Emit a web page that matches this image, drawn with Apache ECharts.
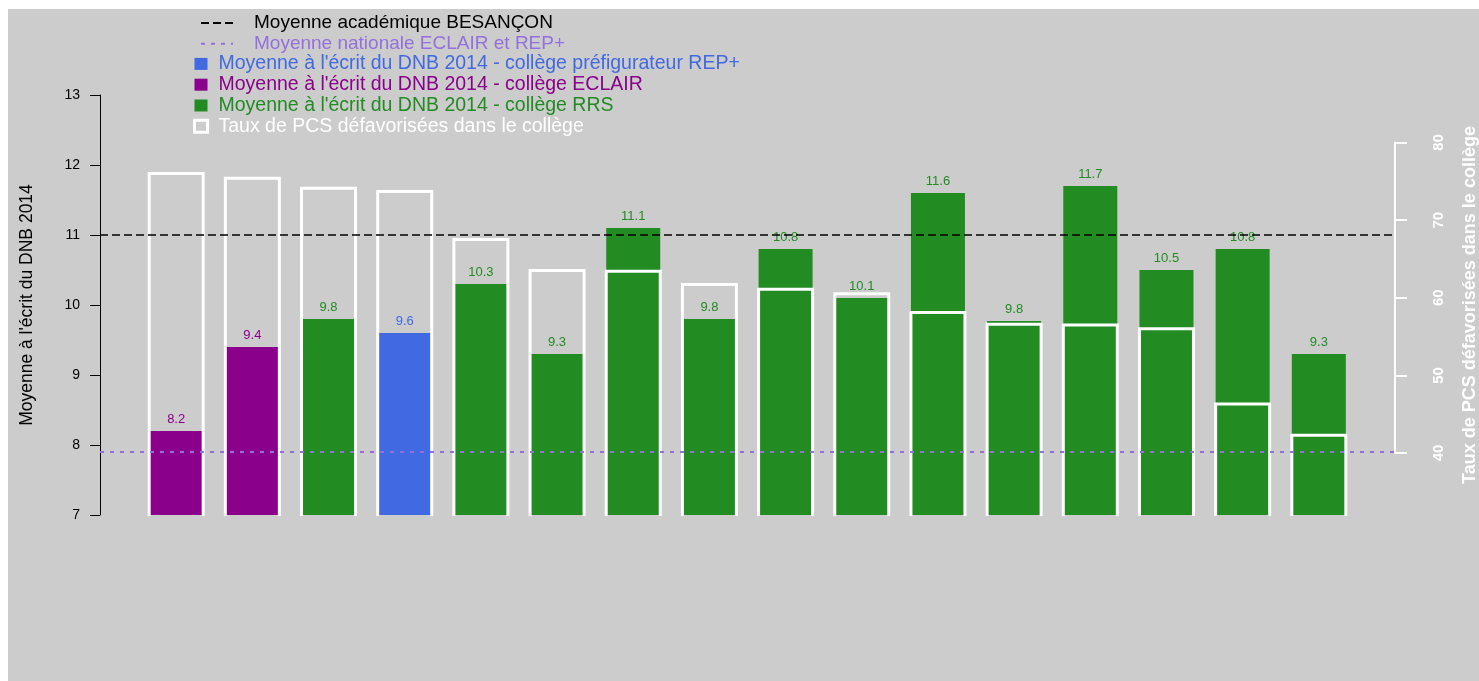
<!DOCTYPE html>
<html>
<head>
<meta charset="utf-8">
<script src="https://cdn.jsdelivr.net/npm/echarts@6/dist/echarts.min.js"></script>
<style>
  html, body { margin: 0; padding: 0; background: #fff; }
  #chart { position: absolute; left: 8px; top: 9px; width: 1471px; height: 672px; background: #cccccc; }
</style>
</head>
<body>
<div id="chart"></div>
<script>
// valeurs (un collège par barre)
const colleges = ['C1', 'C2', 'C3', 'C4', 'C5', 'C6', 'C7', 'C8', 'C9', 'C10', 'C11', 'C12', 'C13', 'C14', 'C15', 'C16'];
const types = ['ECLAIR', 'ECLAIR', 'RRS', 'REP+', 'RRS', 'RRS', 'RRS', 'RRS', 'RRS', 'RRS', 'RRS', 'RRS', 'RRS', 'RRS', 'RRS', 'RRS'];
const moyennes = [8.2, 9.4, 9.8, 9.6, 10.3, 9.3, 11.1, 9.8, 10.8, 10.1, 11.6, 9.77, 11.7, 10.5, 10.8, 9.3];
const tauxPCS = [76.0, 75.4, 74.1, 73.7, 67.5, 63.5, 63.4, 61.7, 61.1, 60.5, 58.1, 56.6, 56.5, 56.0, 46.3, 42.3];
const moyenneAcademique = 11.0;
const moyenneNationale = 7.9;
const ticksGauche = [7, 13, 1];   // min, max, pas
const ticksDroite = [40, 80, 10];

const FONT = "'Liberation Sans', Arial, sans-serif";
const VIOLET = '#8B008B', BLEU = '#4169E1', VERT = '#228B22', MAUVE = '#9370DB';

// géométrie : l'axe de droite (40-80) n'occupe qu'une partie de la hauteur du graphique
const gridTop = 86, gridHeight = 420;
const droiteTop = 133.5, droiteHeight = 310.5;
const pxParUnite = droiteHeight / (ticksDroite[1] - ticksDroite[0]);
const pcsMin = ticksDroite[0] - (gridTop + gridHeight - droiteTop - droiteHeight) / pxParUnite;
const pcsMax = ticksDroite[1] + (droiteTop - gridTop) / pxParUnite;

function serieBarres(type, nom, couleur) {
  const data = [];
  moyennes.forEach((v, i) => { if (types[i] === type) data.push([i + 1, v]); });
  return {
    name: nom,
    type: 'bar',
    xAxisIndex: 0, yAxisIndex: 0,
    barWidth: 54,
    barGap: '-100%',
    z: 2,
    itemStyle: { color: couleur },
    label: {
      show: true, position: 'top', distance: 5,
      color: couleur, fontFamily: FONT, fontSize: 13,
      formatter: p => p.value[1].toFixed(1)
    },
    data: data
  };
}

const chart = echarts.init(document.getElementById('chart'), null, { renderer: 'canvas' });

const sansSymbole = { color: 'rgba(0,0,0,0)', borderWidth: 0 };

const option = {
  animation: false,
  backgroundColor: '#cccccc',
  textStyle: { fontFamily: FONT },
  grid: [
    { left: 92, right: 84, top: gridTop, height: gridHeight, outerBoundsMode: 'none' },
    { left: 92, right: 84, top: droiteTop, height: droiteHeight, outerBoundsMode: 'none' }
  ],
  legend: [
    {
      left: 192, top: 3.5, orient: 'vertical', padding: 0, itemGap: 0,
      itemWidth: 32, itemHeight: 10, selectedMode: false,
      textStyle: { fontSize: 19, lineHeight: 20.8, padding: [0, 0, 0, 16] },
      data: [
        { name: 'Moyenne académique BESANÇON', itemStyle: sansSymbole, textStyle: { color: '#000' } },
        { name: 'Moyenne nationale ECLAIR et REP+', itemStyle: sansSymbole, textStyle: { color: MAUVE } }
      ]
    },
    {
      left: 185, top: 44.5, orient: 'vertical', padding: 0, itemGap: 0,
      itemWidth: 13, itemHeight: 12, selectedMode: false,
      textStyle: { fontSize: 19.5, lineHeight: 20.8, padding: [0, 0, 0, 6] },
      data: [
        { name: "Moyenne à l'écrit du DNB 2014 - collège préfigurateur REP+", icon: 'rect', textStyle: { color: BLEU } },
        { name: "Moyenne à l'écrit du DNB 2014 - collège ECLAIR", icon: 'rect', textStyle: { color: VIOLET } },
        { name: "Moyenne à l'écrit du DNB 2014 - collège RRS", icon: 'rect', textStyle: { color: VERT } },
        { name: 'Taux de PCS défavorisées dans le collège', icon: 'rect',
          itemStyle: { color: 'rgba(0,0,0,0)', borderColor: '#fff', borderWidth: 3 },
          textStyle: { color: '#fff' } }
      ]
    }
  ],
  xAxis: [
    { type: 'value', gridIndex: 0, min: 0, max: colleges.length + 1, show: false },
    { type: 'value', gridIndex: 1, min: 0, max: colleges.length + 1, show: false }
  ],
  yAxis: [
    {
      type: 'value', gridIndex: 0, position: 'left',
      min: ticksGauche[0], max: ticksGauche[1], interval: ticksGauche[2],
      name: "Moyenne à l'écrit du DNB 2014", nameLocation: 'middle', nameRotate: 90, nameGap: 64,
      nameTextStyle: { color: '#000', fontSize: 17.5, fontFamily: FONT },
      axisLine: { show: true, onZero: false, lineStyle: { color: '#000', width: 1 } },
      axisTick: { show: true, length: 10, lineStyle: { color: '#000' } },
      axisLabel: { color: '#000', fontSize: 14, margin: 20, fontFamily: FONT },
      splitLine: { show: false }
    },
    {
      type: 'value', gridIndex: 0, position: 'right',
      min: pcsMin, max: pcsMax,
      name: 'Taux de PCS défavorisées dans le collège', nameLocation: 'middle', nameRotate: 90, nameGap: 66,
      nameTextStyle: { color: '#fff', fontSize: 18, fontWeight: 'bold', fontFamily: FONT },
      axisLine: { show: false, onZero: false }, axisTick: { show: false }, axisLabel: { show: false },
      splitLine: { show: false }
    },
    {
      type: 'value', gridIndex: 1, position: 'right',
      min: ticksDroite[0], max: ticksDroite[1], interval: ticksDroite[2],
      axisLine: { show: true, onZero: false, lineStyle: { color: '#fff', width: 2 } },
      axisTick: { show: true, length: 12, lineStyle: { color: '#fff', width: 2 } },
      axisLabel: { color: '#fff', fontSize: 15, fontWeight: 'bold', rotate: 90, margin: 36, fontFamily: FONT },
      splitLine: { show: false }
    }
  ],
  series: [
    serieBarres('REP+', "Moyenne à l'écrit du DNB 2014 - collège préfigurateur REP+", BLEU),
    serieBarres('ECLAIR', "Moyenne à l'écrit du DNB 2014 - collège ECLAIR", VIOLET),
    serieBarres('RRS', "Moyenne à l'écrit du DNB 2014 - collège RRS", VERT),
    {
      name: 'Taux de PCS défavorisées dans le collège',
      type: 'custom',
      xAxisIndex: 0, yAxisIndex: 1,
      z: 3,
      itemStyle: { color: '#fff' },
      renderItem: function (params, api) {
        const x = api.value(0);
        const haut = api.coord([x, api.value(1)]);
        const bas = params.coordSys.y + params.coordSys.height + 1;
        const demi = 27;
        return {
          type: 'polyline',
          shape: { points: [[haut[0] - demi, bas], [haut[0] - demi, haut[1]], [haut[0] + demi, haut[1]], [haut[0] + demi, bas]] },
          style: { fill: 'none', stroke: '#fff', lineWidth: 3 }
        };
      },
      data: tauxPCS.map((v, i) => [i + 1, v])
    },
    {
      name: 'Moyenne académique BESANÇON',
      type: 'line', xAxisIndex: 0, yAxisIndex: 0,
      symbol: 'none', z: 5,
      itemStyle: { color: '#000' },
      lineStyle: { color: '#000', type: [8, 4], width: 1.5 },
      data: [],
      markLine: {
        silent: true, symbol: 'none', label: { show: false },
        lineStyle: { color: '#000', type: [8, 4], width: 1.5 },
        data: [{ yAxis: moyenneAcademique }]
      }
    },
    {
      name: 'Moyenne nationale ECLAIR et REP+',
      type: 'line', xAxisIndex: 0, yAxisIndex: 0,
      symbol: 'none', z: 5,
      itemStyle: { color: MAUVE },
      lineStyle: { color: MAUVE, type: [4, 6], width: 2 },
      data: [],
      markLine: {
        silent: true, symbol: 'none', label: { show: false },
        lineStyle: { color: MAUVE, type: [4, 6], width: 2 },
        data: [{ yAxis: moyenneNationale }]
      }
    }
  ]
};

chart.setOption(option);
</script>
</body>
</html>
